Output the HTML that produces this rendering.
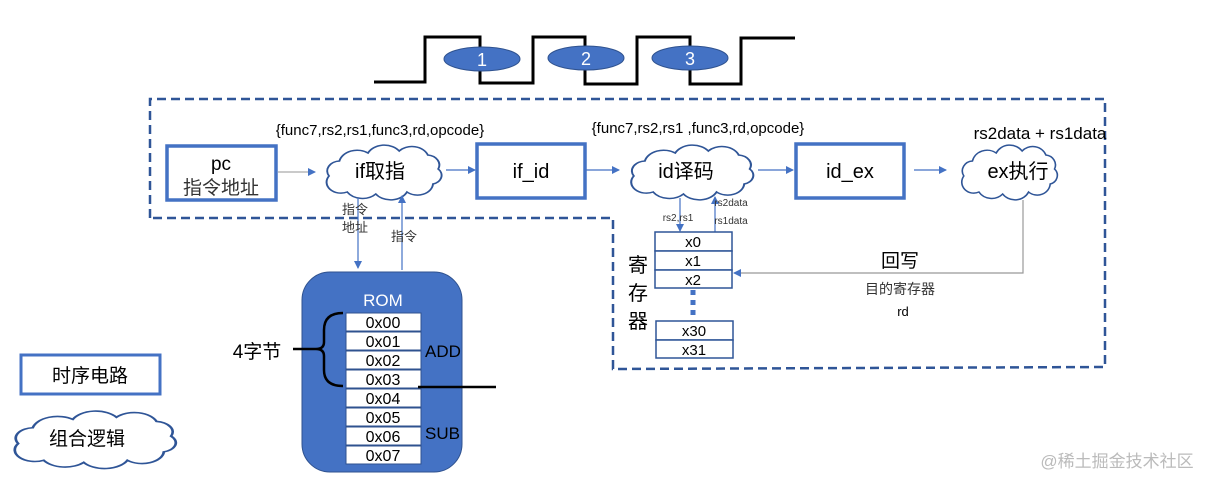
<!DOCTYPE html>
<html><head><meta charset="utf-8"><style>
body{margin:0;background:#fff}
svg{display:block}
text{font-family:"Liberation Sans","Noto Sans CJK SC",sans-serif}
</style></head><body>
<svg width="1214" height="487" viewBox="0 0 1214 487" xmlns="http://www.w3.org/2000/svg">
<defs>
<marker id="ar" markerWidth="8" markerHeight="8" refX="7" refY="4" orient="auto" markerUnits="userSpaceOnUse"><path d="M0,0 L8,4 L0,8 z" fill="#4472c4"/></marker>
<path id="cl" d="M10,30 a10,10 0 0,1 8,-15 a14,14 0 0,1 22,-8 a14,14 0 0,1 24,-2 a13,13 0 0,1 22,4 a10,10 0 0,1 8,14 a9,9 0 0,1 -4,15 a12,12 0 0,1 -20,8 a14,14 0 0,1 -24,2 a14,14 0 0,1 -22,-2 a11,11 0 0,1 -14,-16 z"/>
</defs>
<rect width="1214" height="487" fill="#fff"/>
<polyline points="374,82 425,82 425,37 480,37 480,83 533,83 533,37 585,37 585,84 637,84 637,37 690,37 690,84 741,84 741,38 795,38" fill="none" stroke="#000" stroke-width="3"/>
<ellipse cx="482" cy="59" rx="38" ry="12" fill="#4472c4" stroke="#2f528f"/>
<ellipse cx="586" cy="58" rx="38" ry="12" fill="#4472c4" stroke="#2f528f"/>
<ellipse cx="690" cy="58" rx="38" ry="12" fill="#4472c4" stroke="#2f528f"/>
<text x="482" y="66" fill="#fff" font-size="18" text-anchor="middle">1</text>
<text x="586" y="65" fill="#fff" font-size="18" text-anchor="middle">2</text>
<text x="690" y="65" fill="#fff" font-size="18" text-anchor="middle">3</text>
<polyline points="150,218 150,99 1105,99 1105,367 613,369 613,218 150,218" fill="none" stroke="#2f5597" stroke-width="2.5" stroke-dasharray="9,5"/>
<g fill="#fff" stroke="#4472c4" stroke-width="3.5">
<rect x="167" y="146" width="109" height="54"/>
<rect x="477" y="144" width="108" height="54"/>
<rect x="796" y="144" width="108" height="54"/>
<rect x="21" y="355" width="139" height="39" stroke-width="3"/>
</g>
<g fill="#fff" stroke="#2f5597" stroke-width="1.5">
<use href="#cl" transform="translate(316,146) scale(1.3,1.0)"/>
<use href="#cl" transform="translate(620,146) scale(1.38,1.0)"/>
<use href="#cl" transform="translate(953,146) scale(1.08,1.0)"/>
<use href="#cl" transform="translate(0,412) scale(1.82,1.05)"/>
</g>
<text x="221" y="170" font-size="19" text-anchor="middle">pc</text>
<text x="221" y="194" font-size="19" text-anchor="middle" fill="#333">指令地址</text>
<text x="380" y="178" font-size="20" text-anchor="middle">if取指</text>
<text x="531" y="178" font-size="20" text-anchor="middle">if_id</text>
<text x="686" y="178" font-size="20" text-anchor="middle">id译码</text>
<text x="850" y="178" font-size="20" text-anchor="middle">id_ex</text>
<text x="1018" y="178" font-size="20" text-anchor="middle">ex执行</text>
<text x="90" y="382" font-size="19" text-anchor="middle">时序电路</text>
<text x="87" y="445" font-size="19" text-anchor="middle">组合逻辑</text>
<text x="380" y="135" font-size="15" text-anchor="middle">{func7,rs2,rs1,func3,rd,opcode}</text>
<text x="698" y="133" font-size="15" text-anchor="middle">{func7,rs2,rs1 ,func3,rd,opcode}</text>
<text x="1040" y="139" font-size="17" text-anchor="middle">rs2data + rs1data</text>
<g stroke="#4472c4" stroke-width="1.2" fill="none" marker-end="url(#ar)">
<line x1="278" y1="172" x2="315" y2="172" stroke="#aaa"/>
<line x1="446" y1="170" x2="475" y2="170"/>
<line x1="586" y1="170" x2="619" y2="170"/>
<line x1="758" y1="170" x2="793" y2="170"/>
<line x1="914" y1="170" x2="946" y2="170"/>
<line x1="358" y1="198" x2="358" y2="268"/>
<line x1="402" y1="270" x2="402" y2="196"/>
<line x1="680" y1="198" x2="680" y2="231"/>
<line x1="715" y1="232" x2="715" y2="197"/>
<polyline points="1023,200 1023,273 734,273" stroke="#999"/>
</g>
<text x="355" y="214" font-size="13" text-anchor="middle" fill="#333">指令</text>
<text x="355" y="232" font-size="13" text-anchor="middle" fill="#333">地址</text>
<text x="404" y="241" font-size="13" text-anchor="middle" fill="#333">指令</text>
<text x="678" y="221" font-size="10" text-anchor="middle" fill="#333">rs2,rs1</text>
<text x="731" y="206" font-size="10" text-anchor="middle" fill="#333">rs2data</text>
<text x="731" y="224" font-size="10" text-anchor="middle" fill="#333">rs1data</text>
<text x="900" y="267" font-size="19" text-anchor="middle">回写</text>
<text x="900" y="294" font-size="14" text-anchor="middle" fill="#333">目的寄存器</text>
<text x="903" y="316" font-size="13" text-anchor="middle">rd</text>
<g fill="#fff" stroke="#2f5597" stroke-width="1.5">
<rect x="655" y="232" width="77" height="19"/>
<rect x="655" y="251" width="77" height="19"/>
<rect x="655" y="270" width="77" height="18"/>
<rect x="656" y="321" width="77" height="19"/>
<rect x="656" y="340" width="77" height="18"/>
</g>
<g font-size="15" text-anchor="middle">
<text x="693" y="247">x0</text><text x="693" y="266">x1</text><text x="693" y="285">x2</text>
<text x="694" y="336">x30</text><text x="694" y="355">x31</text>
</g>
<line x1="693" y1="290" x2="693" y2="320" stroke="#4472c4" stroke-width="5" stroke-dasharray="5,5"/>
<text x="638" y="272" font-size="20" text-anchor="middle">寄</text>
<text x="638" y="300" font-size="20" text-anchor="middle">存</text>
<text x="638" y="328" font-size="20" text-anchor="middle">器</text>
<rect x="302" y="272" width="160" height="200" rx="28" fill="#4472c4" stroke="#2f528f"/>
<text x="383" y="306" font-size="17" fill="#fff" text-anchor="middle">ROM</text>
<g fill="#fff" stroke="#2f528f" stroke-width="1">
<rect x="346" y="313" width="75" height="18"/><rect x="346" y="332" width="75" height="18"/>
<rect x="346" y="351" width="75" height="18"/><rect x="346" y="370" width="75" height="18"/>
<rect x="346" y="389" width="75" height="18"/><rect x="346" y="408" width="75" height="18"/>
<rect x="346" y="427" width="75" height="18"/><rect x="346" y="446" width="75" height="18"/>
</g>
<g font-size="16" text-anchor="middle">
<text x="383" y="328">0x00</text><text x="383" y="347">0x01</text><text x="383" y="366">0x02</text><text x="383" y="385">0x03</text>
<text x="383" y="404">0x04</text><text x="383" y="423">0x05</text><text x="383" y="442">0x06</text><text x="383" y="461">0x07</text>
</g>
<text x="425" y="357" font-size="17">ADD</text>
<text x="425" y="439" font-size="17">SUB</text>
<path d="M343,313 Q324,313 324,330 L324,342 Q324,349 316,349 Q324,349 324,356 L324,370 Q324,386 343,386" fill="none" stroke="#000" stroke-width="2.5"/>
<line x1="293" y1="349" x2="316" y2="349" stroke="#000" stroke-width="2.5"/>
<line x1="418" y1="387" x2="496" y2="387" stroke="#000" stroke-width="2.5"/>
<text x="257" y="358" font-size="19" text-anchor="middle">4字节</text>
<text x="1117" y="467" font-size="17" fill="#bbb" text-anchor="middle">@稀土掘金技术社区</text>
</svg>
</body></html>
